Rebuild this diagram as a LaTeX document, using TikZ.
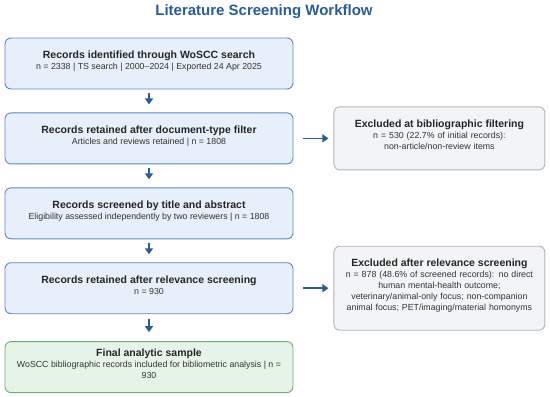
\documentclass[tikz,border=0pt]{standalone}
\usepackage{fontspec}
\setmainfont{Liberation Sans}
\usepackage{xcolor}
\usetikzlibrary{arrows.meta,positioning}

\definecolor{flowblue}{HTML}{2A5C97}
\definecolor{stagefill}{HTML}{E7EFFA}
\definecolor{stageline}{HTML}{5C89C4}
\definecolor{finalfill}{HTML}{E6F4E8}
\definecolor{finalline}{HTML}{6BAF74}
\definecolor{exclfill}{HTML}{F3F4F6}
\definecolor{exclline}{HTML}{AEB3BA}
\definecolor{inkgray}{HTML}{333333}

\newcommand{\boxhead}[1]{{\fontsize{10.5}{15}\selectfont\bfseries\color{black!85}#1}}

\begin{document}
\begin{tikzpicture}[
  node distance=23pt,
  box/.style={rectangle,draw,rounded corners=6pt,align=center,line width=0.9pt,
    font=\fontsize{8.8}{11}\selectfont,text=inkgray,
    execute at end node={\rule[-7pt]{0pt}{0pt}}},
  stage/.style={box,fill=stagefill,draw=stageline,minimum width=288pt,minimum height=51pt},
  final/.style={box,fill=finalfill,draw=finalline,minimum width=288pt,minimum height=51pt},
  excl/.style={box,fill=exclfill,draw=exclline,text width=197pt,inner xsep=7pt},
  arr/.style={-{Triangle[length=6pt,width=8pt]},line width=1.6pt,draw=flowblue}
]
\useasboundingbox (0,0) rectangle (550pt,-397pt);

\node[font=\fontsize{15}{18}\selectfont\bfseries,text=flowblue] (title) at (264pt,-12pt) {Literature Screening Workflow};

\node[stage] (ident) at (149pt,-63.5pt) {\boxhead{Records identified through WoSCC search}\\
  n = 2338 | TS search | 2000--2024 | Exported 24 Apr 2025};
\node[stage,below=of ident] (doctype) {\boxhead{Records retained after document-type filter}\\
  Articles and reviews retained | n = 1808};
\node[stage,below=of doctype] (screen) {\boxhead{Records screened by title and abstract}\\
  Eligibility assessed independently by two reviewers | n = 1808};
\node[stage,below=of screen] (relev) {\boxhead{Records retained after relevance screening}\\
  n = 930};
\node[final,below=27pt of relev] (sample) {\boxhead{Final analytic sample}\\
  WoSCC bibliographic records included for bibliometric analysis | n =\\ 930};

\node[excl,minimum height=63pt,right=40pt of doctype] (exbib) {\boxhead{Excluded at bibliographic filtering}\\
  n = 530 (22.7\% of initial records):\\ non-article/non-review items};
\node[excl,minimum height=84pt,right=40pt of relev] (exrel) {\boxhead{Excluded after relevance screening}\\
  n = 878 (48.6\% of screened records): no direct\\ human mental-health outcome;\\
  veterinary/animal-only focus; non-companion\\ animal focus; PET/imaging/material homonyms};

\draw[arr,shorten <=4pt,shorten >=8pt] (ident) -- (doctype);
\draw[arr,shorten <=4pt,shorten >=8pt] (doctype) -- (screen);
\draw[arr,shorten <=4pt,shorten >=8pt] (screen) -- (relev);
\draw[arr,shorten <=5pt,shorten >=9pt] (relev) -- (sample);
\draw[arr,shorten <=10pt,shorten >=5pt] (doctype) -- (exbib);
\draw[arr,shorten <=10pt,shorten >=5pt] (relev) -- (exrel);
\end{tikzpicture}
\end{document}
